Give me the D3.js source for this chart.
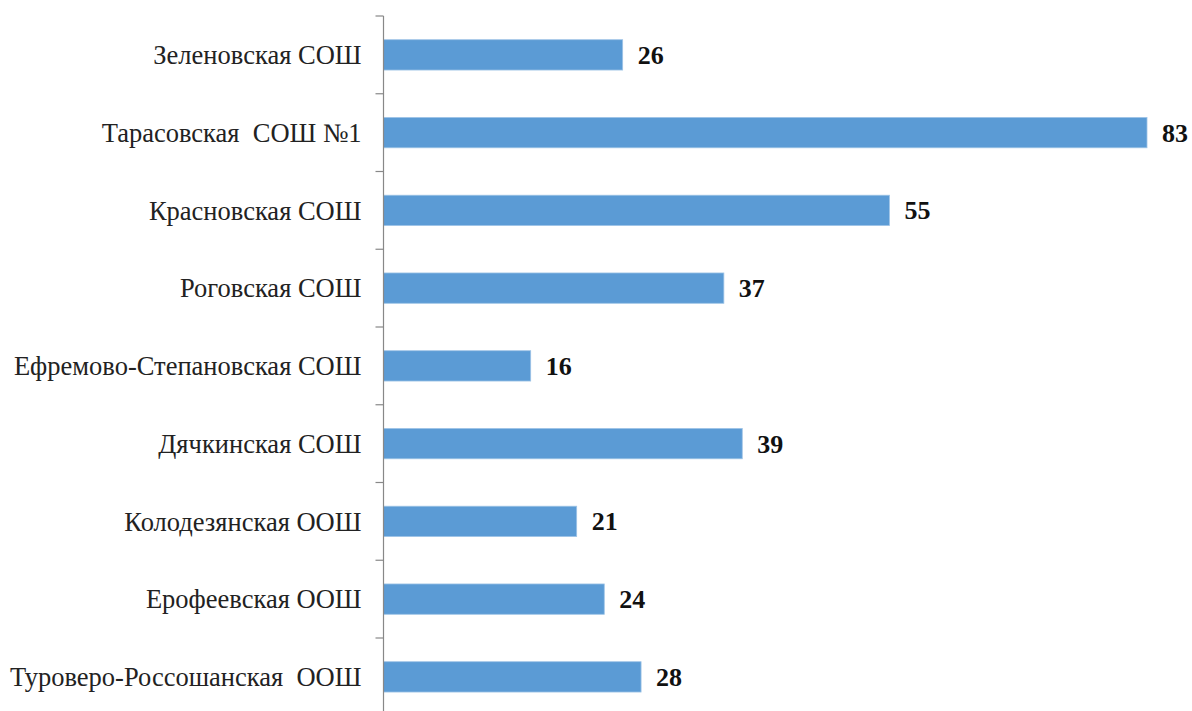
<!DOCTYPE html>
<html><head><meta charset="utf-8">
<script src="https://cdn.jsdelivr.net/npm/d3@7"></script>
<style>body{margin:0;background:#fff} text{font-family:"Times New Roman","Liberation Serif",serif}</style>
</head><body>
<svg id="c" width="1192" height="711"></svg>
<script>
const categories = ["Зеленовская СОШ","Тарасовская  СОШ №1","Красновская СОШ","Роговская СОШ","Ефремово-Степановская СОШ","Дячкинская СОШ","Колодезянская ООШ","Ерофеевская ООШ","Туроверо-Россошанская  ООШ"];
const values = [26,83,55,37,16,39,21,24,28];

(function(){
const svg = d3.select("#c");
const x0 = 383.5, y0 = 16, band = 77.75;
const x = d3.scaleLinear().domain([0,83]).range([x0,1147]);
const y = d3.scaleBand().domain(categories).range([y0, y0+band*categories.length]).paddingInner(0.61).paddingOuter(0.305);
const yAxisScale = d3.scaleBand().domain(categories).range([y0, y0+band*categories.length]);

svg.selectAll("rect.bar").data(values).join("rect")
  .attr("x", x(0)).attr("y",(d,i)=>y(categories[i]))
  .attr("width", d=>x(d)-x(0)).attr("height", y.bandwidth())
  .attr("fill","#5B9BD5").attr("stroke","#9DC3E6").attr("stroke-width",0.8);

const g = svg.append("g");
g.append("line").attr("x1",x0).attr("x2",x0).attr("y1",y0).attr("y2",720).attr("stroke","#888").attr("stroke-width",1.2);
const tickYs = categories.map(c=>yAxisScale(c)).concat([y0+band*categories.length]);
g.selectAll("line.t").data(tickYs).join("line").attr("class","t")
  .attr("x1",x0-8).attr("x2",x0).attr("y1",d=>d).attr("y2",d=>d).attr("stroke","#888").attr("stroke-width",1.2);

svg.selectAll("text.cat").data(categories).join("text").attr("class","cat")
  .attr("x",x0-22).attr("y",c=>y(c)+y.bandwidth()/2).attr("dy","0.35em")
  .attr("text-anchor","end")
  .attr("font-size",26.5).attr("fill","#222").style("white-space","pre").text(c=>c);

svg.selectAll("text.val").data(values).join("text").attr("class","val")
  .attr("x",d=>x(d)+15).attr("y",(d,i)=>y(categories[i])+y.bandwidth()/2).attr("dy","0.35em")
  .attr("font-weight","bold")
  .attr("font-size",26).attr("fill","#111").text(d=>d);
})();
</script>
</body></html>
